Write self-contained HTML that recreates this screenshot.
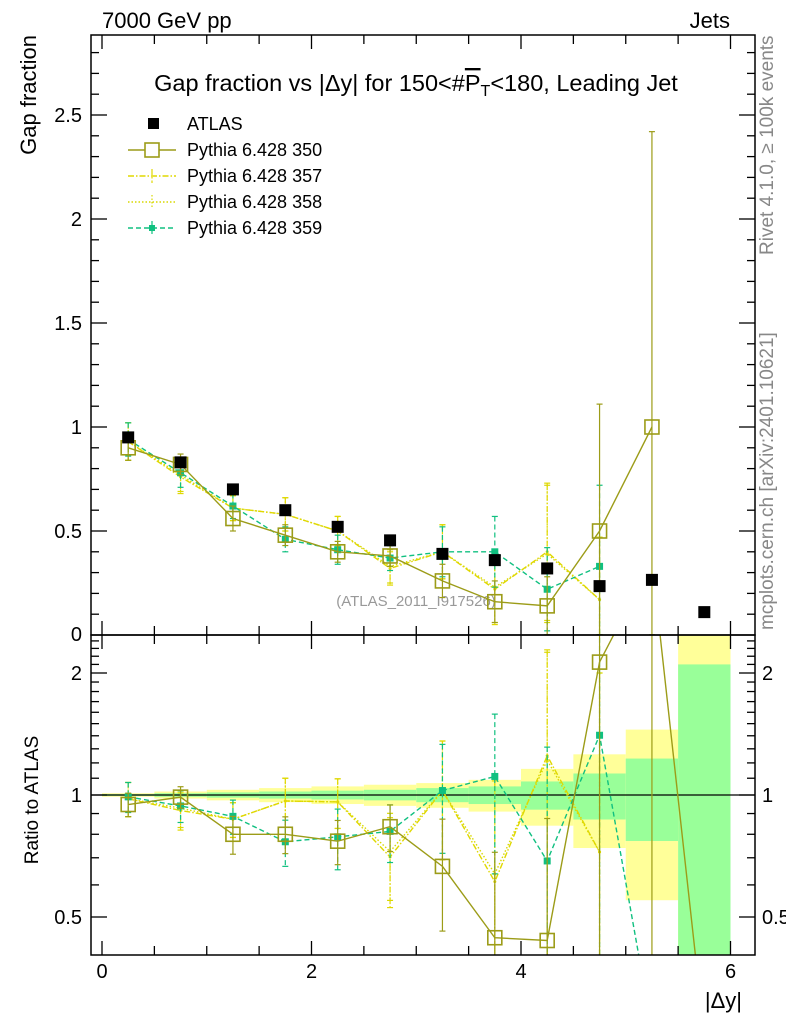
<!DOCTYPE html>
<html><head><meta charset="utf-8"><style>
html,body{margin:0;background:#fff;overflow:hidden;width:786px;height:1024px;}
svg{font-family:"Liberation Sans",sans-serif;display:block;}
</style></head><body>
<svg id="chart" width="786" height="1024" viewBox="0 0 786 1024" xmlns="http://www.w3.org/2000/svg">
<text x="102" y="28" font-size="22">7000 GeV pp</text>
<text x="730" y="28" font-size="22" text-anchor="end">Jets</text>
<text x="416" y="91" font-size="23.5" text-anchor="middle">Gap fraction vs |Δy| for 150&lt;#<tspan text-decoration="overline">P</tspan><tspan font-size="16" dy="5">T</tspan><tspan dy="-5">&lt;180, Leading Jet</tspan></text>
<text transform="translate(36,35) rotate(-90)" font-size="22" text-anchor="end">Gap fraction</text>
<text transform="translate(38,800) rotate(-90)" font-size="19" text-anchor="middle">Ratio to ATLAS</text>
<text x="742" y="1008" font-size="22" text-anchor="end">|Δy|</text>
<text transform="translate(773,255) rotate(-90)" font-size="19" fill="#888">Rivet 4.1.0, ≥ 100k events</text>
<text transform="translate(773,630) rotate(-90)" font-size="19" fill="#888">mcplots.cern.ch [arXiv:2401.10621]</text>
<text x="416" y="606" font-size="15" fill="#999" text-anchor="middle">(ATLAS_2011_I917526)</text>
<g id="bands"></g>
<g id="main"></g>
<g id="ratio"></g>
<g id="axes"></g>
<g id="legend"></g>
</svg>
<script>
const xc=[0.25,0.75,1.25,1.75,2.25,2.75,3.25,3.75,4.25,4.75,5.25,5.75];
const atlas=[0.95,0.83,0.70,0.60,0.52,0.455,0.39,0.36,0.32,0.235,0.265,0.11];
const s350=[0.90,0.82,0.56,0.48,0.40,0.38,0.26,0.16,0.14,0.50,1.00];
const e350=[0.06,0.05,0.06,0.05,0.05,0.05,0.08,0.1,0.14,0.61,1.42];
const s350tail=[0.028];
const s357=[0.93,0.76,0.61,0.58,0.50,0.32,0.40,0.22,0.40,0.17];
const e357=[0.09,0.08,0.06,0.08,0.07,0.08,0.13,0.17,0.33,0.3];
const s358=[0.93,0.77,0.61,0.58,0.50,0.33,0.40,0.23,0.39,0.17];
const s359=[0.94,0.78,0.62,0.46,0.41,0.37,0.40,0.40,0.22,0.33];
const e359=[0.08,0.07,0.06,0.06,0.07,0.06,0.12,0.17,0.2,0.39];
const s359tail=[0.07];
const bandY=[0.01,0.02,0.03,0.04,0.05,0.06,0.07,0.09,0.16,0.26,0.45,2.0];
const bandG=[0.005,0.01,0.015,0.02,0.025,0.03,0.04,0.05,0.08,0.13,0.23,1.1];
const xTicks=[0,2,4,6];
const yTicks=[0.5,1,1.5,2,2.5];
const rTicks=[0.5,1,2];

const NS="http://www.w3.org/2000/svg";
const L=91,R=755,MT=35,MB=635,RB=955;
const X=v=>102+104.75*v;
const Y=v=>635-208*v;
const RY=v=>795-122*Math.log2(Math.max(v,1e-3));
function mk(p,t,a){const e=document.createElementNS(NS,t);for(const k in a)e.setAttribute(k,a[k]);p.appendChild(e);return e;}
const svg=document.getElementById('chart');
const gB=document.getElementById('bands'),gM=document.getElementById('main'),gR=document.getElementById('ratio'),gA=document.getElementById('axes'),gL=document.getElementById('legend');
const cm=mk(svg,'clipPath',{id:'cm'});mk(cm,'rect',{x:L,y:MT,width:R-L,height:MB-MT});
const cr=mk(svg,'clipPath',{id:'cr'});mk(cr,'rect',{x:L,y:MB,width:R-L,height:RB-MB});
gM.setAttribute('clip-path','url(#cm)');gR.setAttribute('clip-path','url(#cr)');gB.setAttribute('clip-path','url(#cr)');

xc.forEach((c,i)=>{
  const x0=X(c-0.25),x1=X(c+0.25);
  const top1=Math.max(RY(1+bandY[i]),MB-5),bot1=Math.min(RY(Math.max(1-bandY[i],0.01)),RB+5);
  const y1=mk(gB,'rect',{x:x0,y:top1,width:x1-x0,height:bot1-top1,fill:'#ffff99'});
  
  
  const top2=Math.max(RY(1+bandG[i]),MB-5),bot2=Math.min(RY(Math.max(1-bandG[i],0.01)),RB+5);
  const g1=mk(gB,'rect',{x:x0,y:top2,width:x1-x0,height:bot2-top2,fill:'#99ff99'});
  
  
});
mk(gB,'line',{x1:L,x2:R,y1:RY(1),y2:RY(1),stroke:'#000','stroke-width':1.3});

function series(g,yf,vals,errs,col,dash,marker,name,ratio,tail){
  const pts=vals.map((v,i)=>[X(xc[i]),yf(ratio?v/atlas[i]:v)]);
  if(ratio&&tail){tail.forEach((v,j)=>{const i=vals.length+j;pts.push([X(xc[i]),yf(v/atlas[i])]);});}
  const pl=mk(g,'polyline',{points:pts.map(p=>p.join(',')).join(' '),fill:'none',stroke:col,'stroke-width':1.4,'stroke-dasharray':dash});
  
  
  vals.forEach((v,i)=>{
    const e=errs?errs[i]:0,d=ratio?atlas[i]:1;
    const x=X(xc[i]);
    if(e){
      const yt=yf((v+e)/d),yb=yf(Math.max((v-e)/d,0.0011));
      mk(g,'line',{x1:x,x2:x,y1:yt,y2:yb,stroke:col,'stroke-width':1.2,'stroke-dasharray':dash});
      mk(g,'line',{x1:x-3,x2:x+3,y1:yt,y2:yt,stroke:col,'stroke-width':1.2});
      mk(g,'line',{x1:x-3,x2:x+3,y1:yb,y2:yb,stroke:col,'stroke-width':1.2});
    }
    const y=yf(v/d);let m;
    if(marker==='sq') m=mk(g,'rect',{x:x-7,y:y-7,width:14,height:14,fill:'none',stroke:col,'stroke-width':1.6});
    else if(marker==='fill') m=mk(g,'rect',{x:x-3.5,y:y-3.5,width:7,height:7,fill:col});
    else m=mk(g,'circle',{cx:x,cy:y,r:1.5,fill:col});
    
    
  });
}
const C350='#9c9c18',C357='#e0d800',C358='#d8d800',C359='#10c080';
[[gM,Y,false],[gR,RY,true]].forEach(([g,yf,r])=>{
  series(g,yf,s358,e357,C358,'1.5,2','dot','pythia-358',r,null);
  series(g,yf,s357,e357,C357,'6,2,1.5,2','dot','pythia-357',r,null);
  series(g,yf,s359,e359,C359,'5,3','fill','pythia-359',r,s359tail);
  series(g,yf,s350,e350,C350,'','sq','pythia-350',r,s350tail);
});
atlas.forEach((v,i)=>{
  const m=mk(gM,'rect',{x:X(xc[i])-6,y:Y(v)-6,width:12,height:12,fill:'#000'});
  
  
});

mk(gA,'rect',{x:L,y:MT,width:R-L,height:MB-MT,fill:'none',stroke:'#000','stroke-width':1.5});
mk(gA,'rect',{x:L,y:MB,width:R-L,height:RB-MB,fill:'none',stroke:'#000','stroke-width':1.5});
for(let v=0;v<=6.26;v+=0.5){const x=X(v);if(x<L||x>R)continue;const len=Math.abs(v%2)<0.01?14:9;
  [MT,MB].forEach(y=>mk(gA,'line',{x1:x,x2:x,y1:y,y2:y+len,stroke:'#000','stroke-width':1.3}));
  [MB,RB].forEach(y=>mk(gA,'line',{x1:x,x2:x,y1:y,y2:y-len,stroke:'#000','stroke-width':1.3}));}
xTicks.forEach(v=>{const t=mk(gA,'text',{x:X(v),y:978,'font-size':20,'text-anchor':'middle'});t.textContent=v;});
for(let k=1;k<=28;k++){const v=k/10,y=Y(v);const len=k%5===0?16:8;
  mk(gA,'line',{x1:L,x2:L+len,y1:y,y2:y,stroke:'#000','stroke-width':1.3});
  mk(gA,'line',{x1:R,x2:R-len,y1:y,y2:y,stroke:'#000','stroke-width':1.3});}
yTicks.forEach(v=>{const t=mk(gA,'text',{x:82,y:Y(v)+7,'font-size':20,'text-anchor':'end'});t.textContent=v;});
{const t=mk(gA,'text',{x:82,y:641,'font-size':20,'text-anchor':'end'});t.textContent='0';}
[0.4,0.5,0.6,0.7,0.8,0.9,1,1.1,1.2,1.3,1.4,1.5,1.6,1.7,1.8,1.9,2,2.1,2.2,2.3,2.4].forEach(v=>{const y=RY(v);if(y<MB||y>RB)return;const len=(v===0.5||v===1||v===2)?16:8;
  mk(gA,'line',{x1:L,x2:L+len,y1:y,y2:y,stroke:'#000','stroke-width':1.3});
  mk(gA,'line',{x1:R,x2:R-len,y1:y,y2:y,stroke:'#000','stroke-width':1.3});});
rTicks.forEach(v=>{[[82,'end'],[762,'start']].forEach(([x,a])=>{const t=mk(gA,'text',{x:x,y:RY(v)+7,'font-size':20,'text-anchor':a});t.textContent=v;});});

const leg=[['ATLAS','#000','','atlas'],['Pythia 6.428 350',C350,'','sq'],['Pythia 6.428 357',C357,'6,2,1.5,2','dot'],['Pythia 6.428 358',C358,'1.5,2','dot'],['Pythia 6.428 359',C359,'5,3','fill']];
leg.forEach((l,i)=>{const y=124+26*i;
  const g=mk(gL,'g',{});
  
  
  if(l[3]==='atlas') mk(g,'rect',{x:148,y:y-6,width:11,height:11,fill:'#000'});
  else{mk(g,'line',{x1:128,x2:176,y1:y,y2:y,stroke:l[1],'stroke-width':1.4,'stroke-dasharray':l[2]});
    mk(g,'line',{x1:152,x2:152,y1:y-7,y2:y+7,stroke:l[1],'stroke-width':1.2,'stroke-dasharray':l[2]});
    if(l[3]==='sq') mk(g,'rect',{x:145,y:y-7,width:14,height:14,fill:'#fff',stroke:l[1],'stroke-width':1.6});
    if(l[3]==='fill') mk(g,'rect',{x:149,y:y-3,width:6,height:6,fill:l[1]});}
  const t=mk(g,'text',{x:187,y:y+6,'font-size':18});t.textContent=l[0];
});
</script>
</body></html>
